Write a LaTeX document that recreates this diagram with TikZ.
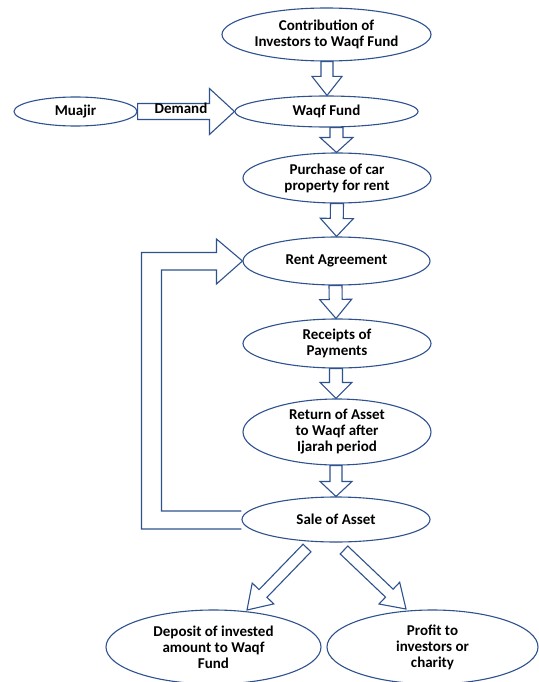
\documentclass[tikz,border=0pt]{standalone}
\usepackage{fontspec}
\setmainfont{Carlito}
\usetikzlibrary{shapes.geometric,calc}
\definecolor{lineblue}{RGB}{47,82,143}
\tikzset{
  bub/.style={ellipse, draw=lineblue, line width=1.1pt, fill=white, inner sep=0pt,
    align=center, font=\bfseries\fontsize{15}{16}\selectfont, text=black},
  blk/.style={draw=lineblue, line width=1.1pt, line join=miter},
}
% start, tip, shaft half width, head half width, head length
\newcommand{\blockarrow}[5]{%
  \path (#2) coordinate (bt) ($(#2)!#5!(#1)$) coordinate (bh);
  \draw[blk] ($(#1)!#3!90:(#2)$) -- ($(bh)!#3!90:(bt)$) -- ($(bh)!#4!90:(bt)$) -- (bt)
    -- ($(bh)!#4!-90:(bt)$) -- ($(bh)!#3!-90:(bt)$) -- ($(#1)!#3!-90:(#2)$) -- cycle;
}
\begin{document}
\begin{tikzpicture}[x=1pt,y=-1pt]
\useasboundingbox (0,0) rectangle (538,682);
\fill[white] (0,0) rectangle (538,682);

\node[bub, minimum width=209pt, minimum height=53pt] (contrib) at (326.5,34.5) {Contribution of\\Investors to Waqf Fund};
\node[bub, minimum width=183pt, minimum height=31pt] (waqf) at (326.5,111.5) {Waqf Fund};
\node[bub, minimum width=123pt, minimum height=29pt] (muajir) at (75.5,111.5) {Muajir};
\node[bub, minimum width=188pt, minimum height=50pt] (purchase) at (337,178) {Purchase of car\\property for rent};
\node[bub, minimum width=187pt, minimum height=48pt] (rent) at (336.5,261) {Rent Agreement};
\node[bub, minimum width=188pt, minimum height=49pt] (receipts) at (337,343.5) {Receipts of\\Payments};
\node[bub, minimum width=188pt, minimum height=66pt] (return) at (337,432) {Return of Asset\\to Waqf after\\Ijarah period};
\node[bub, minimum width=188pt, minimum height=45pt] (sale) at (336,519.5) {Sale of Asset};
\node[bub, minimum width=215pt, minimum height=74pt] (deposit) at (213.5,647) {Deposit of invested\\amount to Waqf\\Fund};
\node[bub, minimum width=211pt, minimum height=74pt] (profit) at (432.5,647) {Profit to\\investors or\\charity};

% vertical block arrows
\blockarrow{[xshift=0.5pt]contrib.south}{[xshift=0.5pt]waqf.north}{6pt}{15pt}{19pt}
\blockarrow{[xshift=10pt]waqf.south}{[xshift=-0.5pt]purchase.north}{6.5pt}{16.5pt}{15pt}
\blockarrow{purchase.south}{rent.north}{6.5pt}{16.5pt}{18pt}
\blockarrow{[xshift=-1pt]rent.south}{[xshift=-1pt]receipts.north}{6.5pt}{16pt}{19pt}
\blockarrow{[xshift=-1pt]receipts.south}{[xshift=-1pt]return.north}{6.5pt}{16pt}{16pt}
\blockarrow{[xshift=-1pt]return.south}{sale.north}{6pt}{16pt}{15pt}

% demand arrow
\blockarrow{muajir.east}{waqf.west}{8pt}{23pt}{25pt}
\node[font=\bfseries\fontsize{15}{16}\selectfont] (demand) at (181,108.5) {Demand};

% loop arrow from Sale of Asset back to Rent Agreement
\draw[blk] ($(sale.west)+(0,9.5)$) -- ++(-100,0) coordinate (lo1)
  -- (lo1 |- {$(rent.west)+(0,-8.5)$}) coordinate (lo2)
  -- ($(rent.west)+(-26,-8.5)$) -- ($(rent.west)+(-26,-22)$) -- (rent.west)
  -- ($(rent.west)+(-26,23)$) -- ($(rent.west)+(-26,9)$)
  -- ($(lo2)+(20,17.5)$) coordinate (lo3)
  -- (lo3 |- {$(sale.west)+(0,-8.5)$}) -- ($(sale.west)+(0,-8.5)$);

% diagonal arrows
\coordinate (dl) at (307,548);
\coordinate (dr) at (344,550);
\coordinate (tl) at (247,610);
\coordinate (tr) at (406,609);
\blockarrow{dl}{tl}{5.5pt}{15pt}{23pt}
\blockarrow{dr}{tr}{5.5pt}{15pt}{23pt}
\end{tikzpicture}
\end{document}
